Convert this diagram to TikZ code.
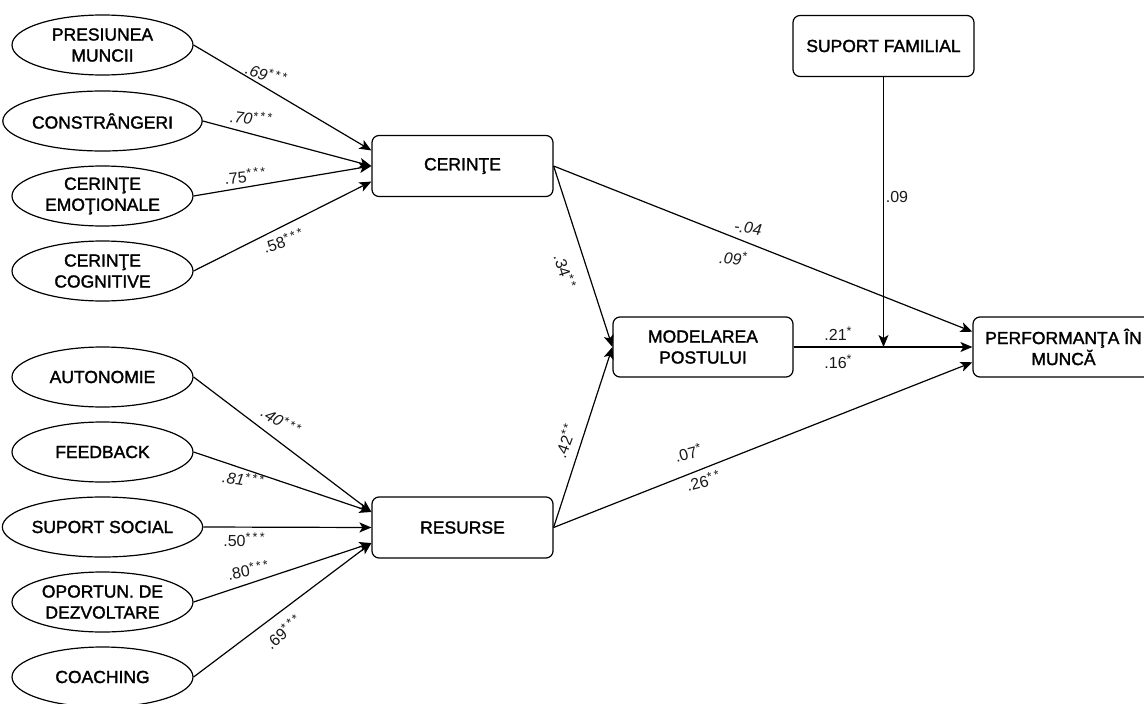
\documentclass[tikz,border=0pt]{standalone}
\usepackage{fontspec}
\setmainfont{Liberation Sans}
\newfontfamily\boxfont{Liberation Sans}[FakeBold=1.6]
\newfontfamily\starfont{Liberation Sans}[LetterSpace=18]
\usetikzlibrary{shapes.geometric,arrows.meta,calc}
\newcommand{\stars}[1]{\raisebox{0.3em}{\starfont\fontsize{12.5}{12.5}\selectfont #1}}
\begin{document}
\begin{tikzpicture}[x=1pt,y=-1pt,
  latent/.style={ellipse,draw,line width=1.2pt,minimum width=181pt,minimum height=60pt,inner sep=0pt,align=center,font=\boxfont\fontsize{17.5}{21}\selectfont},
  obs/.style={rectangle,rounded corners=7pt,draw,line width=1.2pt,minimum width=181pt,minimum height=61pt,inner sep=0pt,align=center,font=\boxfont\fontsize{17.5}{21}\selectfont},
  conn/.style={line width=1.2pt,-{Stealth[length=12pt,width=10pt,inset=3pt]}},
  lbl/.style={font=\fontsize{16}{18}\selectfont,inner sep=0pt,text=black!90}]
\useasboundingbox (0,0) rectangle (1144,704);
\clip (0,0) rectangle (1144,704);
\fill[white] (0,0) rectangle (1144,704);

% latent ellipses
\node[latent] (PM) at (102.5,45) {PRESIUNEA\\MUNCII};
\node[latent] (CO) at (102.5,121) {CONSTRÂNGERI};
\node[latent] (CE) at (102.5,196) {CERINŢE\\EMOŢIONALE};
\node[latent] (CC) at (102.5,271) {CERINŢE\\COGNITIVE};
\node[latent] (AU) at (102.5,377) {AUTONOMIE};
\node[latent] (FB) at (102.5,452) {FEEDBACK};
\node[latent] (SS) at (102.5,527) {SUPORT SOCIAL};
\node[latent] (OD) at (102.5,602) {OPORTUN. DE\\DEZVOLTARE};
\node[latent] (CH) at (102.5,677) {COACHING};

% boxes
\node[obs] (CER) at (462.5,166) {CERINŢE};
\node[obs] (RES) at (462.5,527.5) {RESURSE};
\node[obs,minimum width=180pt,minimum height=60pt] (MP) at (703,347) {MODELAREA\\POSTULUI};
\node[obs,minimum height=60pt] (PF) at (1063.5,347) {PERFORMANŢA ÎN\\MUNCĂ};
\node[obs] (SF) at (883.5,46) {SUPORT FAMILIAL};

% anchor points
\coordinate (CERa) at ($(CER.west)!0.5!(CER.north west)$);
\coordinate (CERb) at ($(CER.west)!0.5!(CER.south west)$);
\coordinate (RESa) at ($(RES.west)!0.5!(RES.north west)$);
\coordinate (RESb) at ($(RES.west)!0.5!(RES.south west)$);
\coordinate (PFa) at ($(PF.west)!0.5!(PF.north west)$);
\coordinate (PFb) at ($(PF.west)!0.5!(PF.south west)$);
\coordinate (MOD) at (SF.south |- MP.east);

% connectors
\draw[conn] (PM.east) -- (CERa);
\draw[conn] (CO.east) -- (CER.west);
\draw[conn] (CE.east) -- (CER.west);
\draw[conn] (CC.east) -- (CERb);
\draw[conn] (AU.east) -- (RESa);
\draw[conn] (FB.east) -- (RESa);
\draw[conn] (SS.east) -- (RES.west);
\draw[conn] (OD.east) -- (RESb);
\draw[conn] (CH.east) -- (RESb);
\draw[conn] (CER.east) -- (MP.west);
\draw[conn] (RES.east) -- (MP.west);
\draw[conn] (CER.east) -- (PFa);
\draw[conn] (RES.east) -- (PFb);
\draw[conn] (MP.east) -- (PF.west);
\draw[conn] (SF.south) -- (MOD);

% labels
\node[lbl,rotate=-18] (l1) at (266,74) {\itshape .69\stars{***}};
\node[lbl,rotate=-7] (l2) at (251,118) {\itshape .70\stars{***}};
\node[lbl,rotate=6] (l3) at (245,176) {.75\stars{***}};
\node[lbl,rotate=18] (l4) at (283,241) {.58\stars{***}};
\node[lbl,rotate=-32] (l5) at (281,421) {\itshape .40\stars{***}};
\node[lbl,rotate=-8] (l6) at (243,479) {\itshape .81\stars{***}};
\node[lbl] (l7) at (244,540) {.50\stars{***}};
\node[lbl,rotate=10] (l8) at (248,570) {.80\stars{***}};
\node[lbl,rotate=40] (l9) at (283,632) {.69\stars{***}};
\node[lbl,rotate=-72] (l10) at (565,271) {.34\stars{**}};
\node[lbl,rotate=70] (l11) at (565,441) {.42\stars{**}};
\node[lbl,rotate=-8] (l12) at (748,228) {\itshape -.04};
\node[lbl,rotate=-5] (l13) at (733,258) {\itshape .09\stars{*}};
\node[lbl,rotate=15] (l14) at (688,453) {.07\stars{*}};
\node[lbl,rotate=15] (l15) at (703,481) {.26\stars{**}};
\node[lbl] (l16) at (897,197) {.09};
\node[lbl] (l17) at (838,334) {.21\stars{*}};
\node[lbl] (l18) at (838,362) {.16\stars{*}};
\end{tikzpicture}
\end{document}
